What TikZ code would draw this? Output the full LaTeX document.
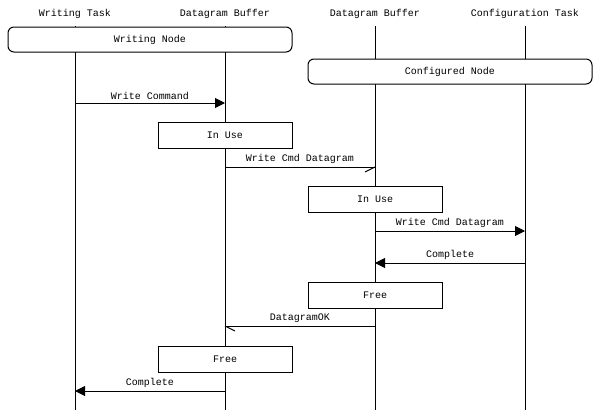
\documentclass[tikz,border=0pt]{standalone}
\usepackage{fontspec}
\setmonofont{Liberation Mono}
\usetikzlibrary{arrows.meta}
\begin{document}
\begin{tikzpicture}[x=1pt,y=-1pt,
  every node/.style={font=\ttfamily\fontsize{10}{12}\selectfont, inner sep=0pt},
  life/.style={line width=1pt},
  nodebox/.style={draw, line width=1pt, fill=white, rounded corners=6pt, minimum width=284pt, minimum height=25pt},
  statebox/.style={draw, line width=1pt, fill=white, minimum width=134pt, minimum height=26pt},
  msg/.style={line width=1pt, -{Triangle[length=10pt,width=10pt]}},
  amsg/.style={line width=1pt},
  lbl/.style={above=3pt}]
\useasboundingbox (0,0) rectangle (600,410);
% lifeline heads
\node (t1) at (75,14) {Writing Task};
\node (t2) at (225,14) {Datagram Buffer};
\node (t3) at (375,14) {Datagram Buffer};
\node (t4) at (525,14) {Configuration Task};
\coordinate (e1) at (75,410);
\coordinate (e2) at (225,410);
\coordinate (e3) at (375,410);
\coordinate (e4) at (525,410);
\draw[life] (75,26) -- (e1);
\draw[life] (225,26) -- (e2);
\draw[life] (375,26) -- (e3);
\draw[life] (525,26) -- (e4);
% boxes
\node[nodebox] (wn) at (150,39.5) {Writing Node};
\node[nodebox] (cn) at (450,71.5) {Configured Node};
\node[statebox] (iu1) at (225,135) {In Use};
\node[statebox] (iu2) at (375,199) {In Use};
\node[statebox] (fr1) at (375,295.5) {Free};
\node[statebox] (fr2) at (225,359) {Free};
% message points
\coordinate (m1a) at (75,103);  \coordinate (m1b) at (225,103);
\coordinate (m2a) at (225,167); \coordinate (m2b) at (375,167);
\coordinate (m3a) at (375,231); \coordinate (m3b) at (525,231);
\coordinate (m4a) at (525,263); \coordinate (m4b) at (375,263);
\coordinate (m5a) at (375,326); \coordinate (m5b) at (225,326);
\coordinate (m6a) at (225,391); \coordinate (m6b) at (75,391);
% messages
\draw[msg] (m1a) -- node[lbl] {Write Command} (m1b);
\draw[amsg] (m2a) -- node[lbl] {Write Cmd Datagram} (m2b);
\draw[amsg] (m2b) -- ++(-10,5);
\draw[msg] (m3a) -- node[lbl] {Write Cmd Datagram} (m3b);
\draw[msg] (m4a) -- node[lbl] {Complete} (m4b);
\draw[amsg] (m5a) -- node[lbl] {DatagramOK} (m5b);
\draw[amsg] (m5b) -- ++(10,5);
\draw[msg] (m6a) -- node[lbl] {Complete} (m6b);
\end{tikzpicture}
\end{document}
